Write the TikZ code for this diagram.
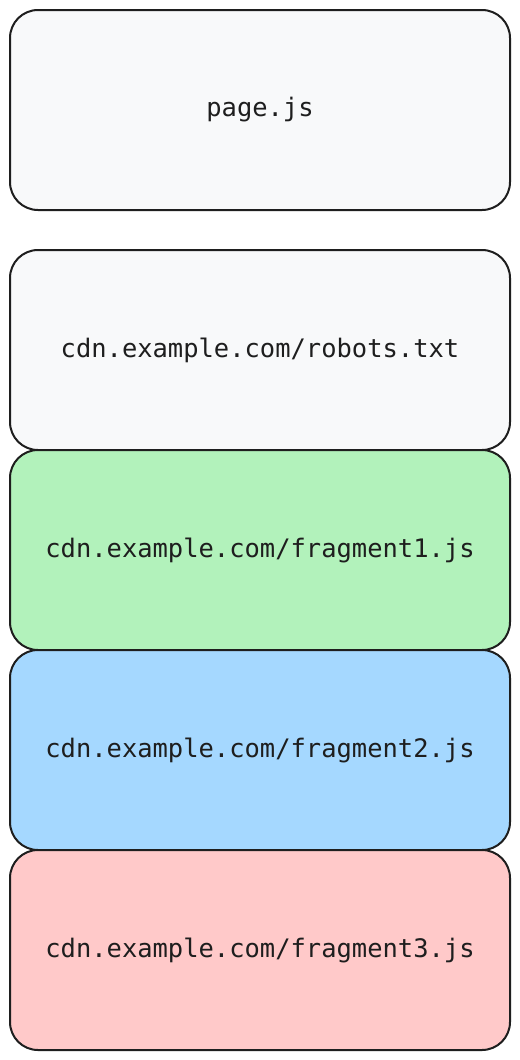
\documentclass[tikz,border=0pt]{standalone}
\usepackage{fontspec}
\setmonofont{DejaVu Sans Mono}
\definecolor{strokec}{HTML}{1E1E1E}
\definecolor{grayf}{HTML}{F8F9FA}
\definecolor{greenf}{HTML}{B2F2BB}
\definecolor{bluef}{HTML}{A5D8FF}
\definecolor{redf}{HTML}{FFC9C9}
\tikzset{
  card/.style={draw=strokec, line width=1.5pt, rounded corners=21pt,
    minimum width=375pt, minimum height=150pt, inner sep=0pt,
    font=\ttfamily\fontsize{19.1}{23}\selectfont, text=strokec}
}
\begin{document}
\begin{tikzpicture}[x=0.75pt,y=-0.75pt]
\useasboundingbox[fill=white] (0,0) rectangle (520,1060);
\node[card, fill=grayf] (page) at (260,110) {page.js};
\node[card, fill=grayf] (robots) at (260,350) {cdn.example.com/robots.txt};
\node[card, fill=greenf] (frag1) at (260,550) {cdn.example.com/fragment1.js};
\node[card, fill=bluef] (frag2) at (260,750) {cdn.example.com/fragment2.js};
\node[card, fill=redf] (frag3) at (260,950) {cdn.example.com/fragment3.js};
\end{tikzpicture}
\end{document}
